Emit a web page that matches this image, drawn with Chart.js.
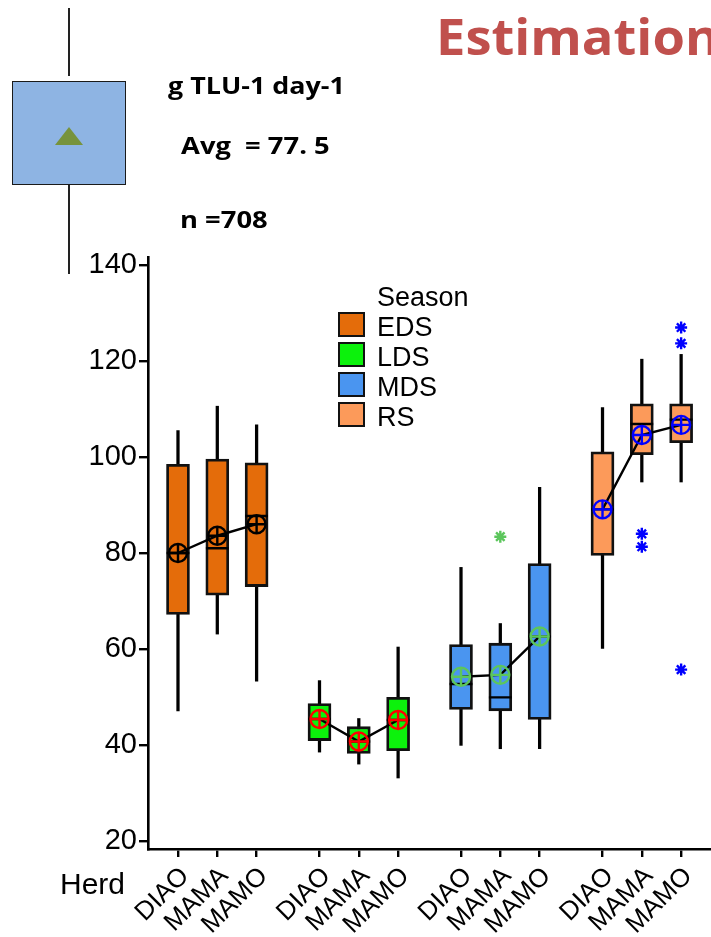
<!DOCTYPE html>
<html>
<head>
<meta charset="utf-8">
<script src="https://cdn.jsdelivr.net/npm/chart.js@4.4.1/dist/chart.umd.min.js"></script>
<style>
  html, body { margin: 0; padding: 0; background: #fff; }
  #wrap { position: relative; width: 711px; height: 937px; overflow: hidden; }
  #c { position: absolute; left: 0; top: 0; }
  .t { position: absolute; white-space: pre; line-height: 1; }
  .ob { font-family: "Open Sans", sans-serif; font-weight: bold; color: #000; }
  .ls { font-family: "Liberation Sans", Arial, sans-serif; color: #000; }
  .sq { position: absolute; width: 23px; height: 21px; border: 2.5px solid #111; }
</style>
</head>
<body>
<div id="wrap">
  <canvas id="c" width="711" height="937"></canvas>

  <!-- decorative box-plot key at top left -->
  <div style="position:absolute;left:68px;top:8px;width:1.5px;height:68px;background:#222;"></div>
  <div style="position:absolute;left:12px;top:81px;width:112px;height:102px;background:#8EB4E3;border:1.2px solid #1a1a1a;"></div>
  <div style="position:absolute;left:68px;top:185px;width:1.5px;height:89px;background:#222;"></div>
  <div style="position:absolute;left:55px;top:127px;width:0;height:0;border-left:14.5px solid transparent;border-right:14.5px solid transparent;border-bottom:18px solid #77933C;"></div>

  <div class="t ob" style="left:168px;top:73px;font-size:24px;transform:scaleX(1.12);transform-origin:0 0;">g TLU-1 day-1</div>
  <div class="t ob" style="left:181px;top:133px;font-size:24px;transform:scaleX(1.14);transform-origin:0 0;">Avg  = 77. 5</div>
  <div class="t ob" style="left:180px;top:207px;font-size:24px;transform:scaleX(1.14);transform-origin:0 0;">n =708</div>

  <div class="t ob" style="left:436px;top:11px;font-size:50px;color:#C0504D;transform:scaleX(1.05);transform-origin:0 0;">Estimation</div>

  <div class="t ls" style="left:60px;top:869px;font-size:30px;">Herd</div>

  <!-- legend -->
  <div class="t ls" style="left:377px;top:284px;font-size:27px;">Season</div>
  <div id="legend"></div>
</div>

<script>
// ---------------- data ----------------
const herdLabels = ['DIAO', 'MAMA', 'MAMO'];
const seasonNames = ['EDS', 'LDS', 'MDS', 'RS'];

// per season, per herd (DIAO, MAMA, MAMO)
const whiskerLow  = { EDS: [47.1, 63.1, 53.3], LDS: [38.5, 36.0, 33.1], MDS: [39.9, 39.2, 39.2], RS: [60.1, 94.8, 94.8] };
const quartile1   = { EDS: [67.2, 71.2, 73.0], LDS: [40.9, 38.2, 38.8], MDS: [47.4, 47.1, 45.3], RS: [79.5, 100.5, 103.0] };
const medians     = { EDS: [80.0, 81.0, 87.7], LDS: [45.4, 40.7, 45.2], MDS: [52.7, 49.9, 62.6], RS: [89.1, 106.9, 107.8] };
const quartile3   = { EDS: [98.5, 99.6, 98.8], LDS: [48.6, 43.8, 49.9], MDS: [60.9, 61.2, 77.8], RS: [101.1, 111.1, 111.1] };
const whiskerHigh = { EDS: [105.5, 110.6, 106.7], LDS: [53.4, 45.5, 60.4], MDS: [77.0, 65.3, 93.7], RS: [110.3, 120.4, 121.4] };
const means       = { EDS: [80.0, 83.6, 86.0], LDS: [45.4, 40.7, 45.2], MDS: [54.2, 54.6, 62.6], RS: [89.1, 104.6, 106.7] };
// outliers: [herd index, value]
const outliers    = { EDS: [], LDS: [], MDS: [[1, 83.4]], RS: [[1, 84.0], [1, 81.3], [2, 127.0], [2, 123.7], [2, 55.7]] };

const yTickValues = [20, 40, 60, 80, 100, 120, 140];

// ---------------- styles ----------------
const boxFill   = { EDS: '#E46C0A', LDS: '#0CF20C', MDS: '#4A95F0', RS: '#FC9A5A' };
const meanColor = { EDS: '#000000', LDS: '#FF0000', MDS: '#5CC65C', RS: '#0000FF' };
const GROUP_GAP = 3.6;
const xOf = (s, h) => s * GROUP_GAP + h;

// legend (HTML)
const leg = document.getElementById('legend');
seasonNames.forEach((s, i) => {
  const top = 312 + i * 30;
  const sq = document.createElement('div');
  sq.className = 'sq';
  sq.style.left = '338px'; sq.style.top = top + 'px'; sq.style.background = boxFill[s];
  leg.appendChild(sq);
  const tx = document.createElement('div');
  tx.className = 't ls';
  tx.style.left = '377px'; tx.style.top = (top + 2) + 'px'; tx.style.fontSize = '27px';
  tx.textContent = s;
  leg.appendChild(tx);
});

// ---------------- datasets ----------------
const datasets = [];
const tickPositions = [];
seasonNames.forEach((s, si) => herdLabels.forEach((h, hi) => tickPositions.push(xOf(si, hi))));

// whiskers
datasets.push({
  type: 'bar', label: 'whiskers', grouped: false, order: 10,
  data: seasonNames.flatMap((s, si) => herdLabels.map((h, hi) => ({ x: xOf(si, hi), y: [whiskerLow[s][hi], whiskerHigh[s][hi]] }))),
  backgroundColor: '#000', borderWidth: 0, barThickness: 2.6
});
// boxes
seasonNames.forEach((s, si) => {
  datasets.push({
    type: 'bar', label: s, grouped: false, order: 6,
    data: herdLabels.map((h, hi) => ({ x: xOf(si, hi), y: [quartile1[s][hi], quartile3[s][hi]] })),
    backgroundColor: boxFill[s], borderColor: '#111', borderWidth: 2.8, borderSkipped: false, barThickness: 23
  });
});
// medians
datasets.push({
  type: 'line', label: 'median', order: 5,
  data: seasonNames.flatMap((s, si) => herdLabels.flatMap((h, hi) => [
    { x: xOf(si, hi) - 0.29, y: medians[s][hi] },
    { x: xOf(si, hi) + 0.29, y: medians[s][hi] },
    { x: xOf(si, hi) + 0.3, y: null }
  ])),
  borderColor: '#000', borderWidth: 2.4, pointRadius: 0, spanGaps: false, fill: false
});
seasonNames.forEach((s, si) => {
  const pts = herdLabels.map((h, hi) => ({ x: xOf(si, hi), y: means[s][hi] }));
  datasets.push({ type: 'line', label: s + ' mean line', order: 4, data: pts,
    borderColor: '#000', borderWidth: 2.4, pointRadius: 0, fill: false });
  datasets.push({ type: 'line', label: s + ' mean', order: 3, data: pts, showLine: false,
    pointStyle: 'circle', pointRadius: 9, pointBorderWidth: 2.4, pointBorderColor: meanColor[s], pointBackgroundColor: 'rgba(0,0,0,0)' });
  datasets.push({ type: 'line', label: s + ' mean cross', order: 2, data: pts, showLine: false,
    pointStyle: 'cross', pointRadius: 9, pointBorderWidth: 2.4, pointBorderColor: meanColor[s] });
  if (outliers[s].length) {
    datasets.push({ type: 'line', label: s + ' outliers', order: 1, showLine: false,
      data: outliers[s].map(o => ({ x: xOf(si, o[0]), y: o[1] })),
      pointStyle: 'star', pointRadius: 6, pointBorderWidth: 2.4, pointBorderColor: meanColor[s] });
  }
});

new Chart(document.getElementById('c'), {
  type: 'bar',
  data: { datasets },
  options: {
    responsive: false, animation: false, devicePixelRatio: 1,
    layout: { autoPadding: false, padding: { left: 0, right: 0, top: 257, bottom: 0 } },
    plugins: { legend: { display: false }, tooltip: { enabled: false } },
    scales: {
      x: {
        type: 'linear', min: -0.763, max: 13.56, offset: false,
        afterBuildTicks: sc => { sc.ticks = tickPositions.map(v => ({ value: v })); },
        afterFit: sc => { sc.height = 88; sc.paddingRight = 0; sc.paddingLeft = 0; },
        ticks: {
          autoSkip: false, minRotation: 45, maxRotation: 45, padding: 4, labelOffset: 7,
          color: '#000', font: { family: 'Liberation Sans', size: 26 },
          callback: (v, i) => herdLabels[i % 3]
        },
        grid: { display: true, offset: false, drawOnChartArea: false, drawTicks: true, tickLength: 8, color: '#000', lineWidth: 2.4 },
        border: { display: true, color: '#000', width: 2.6 }
      },
      y: {
        type: 'linear', min: 18.3, max: 141.7,
        afterBuildTicks: sc => { sc.ticks = yTickValues.map(v => ({ value: v })); },
        afterFit: sc => { sc.width = 148; },
        ticks: { padding: 2, color: '#000', font: { family: 'Liberation Sans', size: 29 } },
        grid: { display: true, drawOnChartArea: false, drawTicks: true, tickLength: 9, color: '#000', lineWidth: 2.4 },
        border: { display: true, color: '#000', width: 2.6 }
      }
    }
  }
});
</script>
</body>
</html>
